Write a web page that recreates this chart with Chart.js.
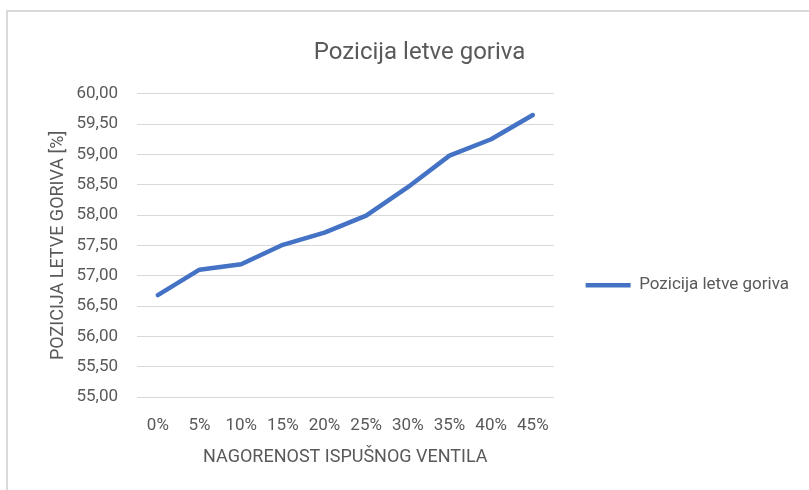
<!DOCTYPE html>
<html>
<head>
<meta charset="utf-8">
<script src="https://cdn.jsdelivr.net/npm/chart.js@4"></script>
<style>
  html, body { margin: 0; padding: 0; background: #fff; }
  #wrap { position: relative; width: 809px; height: 490px; overflow: hidden; }
  #frame { position: absolute; left: 6px; top: 10px; width: 820px; height: 500px;
           border-left: 2px solid #d9d9d9; border-top: 2px solid #d9d9d9; }
  #chart { position: absolute; left: 0; top: 0; }
</style>
</head>
<body>
<div id="wrap">
  <div id="frame"></div>
  <canvas id="chart" width="809" height="490"></canvas>
</div>
<script>
// Pozicija letve goriva vs. nagorenost ispušnog ventila
const categories = ['0%', '5%', '10%', '15%', '20%', '25%', '30%', '35%', '40%', '45%'];
const letvaValues = [56.68, 57.10, 57.19, 57.51, 57.71, 57.99, 58.46, 58.98, 59.25, 59.65];
const seriesName  = 'Pozicija letve goriva';
const yMin = 55, yMax = 60, yStep = 0.5;

const FONT  = 'Roboto, "Open Sans", sans-serif';
const GREY  = '#595959';
const BLUE  = '#4472C4';
const GRID  = '#d9d9d9';

new Chart(document.getElementById('chart'), {
  type: 'line',
  data: {
    labels: categories,
    datasets: [{
      label:            seriesName,
      data:             letvaValues,
      borderColor:      BLUE,
      backgroundColor:  BLUE,
      borderWidth:      4.5,
      borderCapStyle:   'round',
      borderJoinStyle:  'round',
      pointRadius:      0,
      pointStyle:       'line',
      tension:          0,
      yAxisID:          'y',
    }],
  },
  options: {
    responsive:       false,
    animation:        false,
    devicePixelRatio: 1,
    layout: { padding: { top: 14, left: 40, right: 10, bottom: 18 } },
    scales: {
      x: {
        offset: true,
        grid:   { display: false },
        border: { display: false },
        ticks:  { color: GREY, font: { family: FONT, size: 17 }, padding: 11, maxRotation: 0 },
        title:  { display: true, text: 'NAGORENOST ISPUŠNOG VENTILA', color: GREY,
                  font: { family: FONT, size: 18 }, padding: { top: 4, bottom: 4 } },
        afterFit: s => { s.height = 75; },
      },
      y: {
        position: 'left',
        min: yMin, max: yMax,
        grid:   { color: GRID, lineWidth: 1, drawTicks: false },
        border: { display: false },
        ticks:  { stepSize: yStep, color: GREY, padding: 19,
                  font: { family: FONT, size: 17 },
                  callback: v => v.toFixed(2).replace('.', ',') },
        title:  { display: true, text: 'POZICIJA LETVE GORIVA [%]', color: GREY,
                  font: { family: FONT, size: 18 }, padding: { top: 8, bottom: 4 } },
        afterFit: s => { s.width = 97; },
      },
      gap: {
        position: 'right',
        display:  true,
        grid:     { display: false },
        border:   { display: false },
        ticks:    { display: false },
        afterFit: s => { s.width = 22; },
      },
    },
    plugins: {
      title: {
        display: true,
        text:    'Pozicija letve goriva',
        color:   GREY,
        font:    { family: FONT, size: 24, weight: 'normal' },
        padding: { top: 25, bottom: 26 },
      },
      legend: {
        position: 'right',
        maxWidth: 300,
        // empty title only pushes the single entry down, as in the original
        title: {
          display: true,
          text:    ' ',
          color:   'rgba(0,0,0,0)',
          font:    { family: FONT, size: 17 },
          padding: { top: 0, bottom: 64 },
        },
        labels: {
          color: GREY,
          font: { family: FONT, size: 17 },
          usePointStyle: true,
          pointStyleWidth: 45,
          padding: 10,
        },
      },
      tooltip: { enabled: false },
    },
  },
});
</script>
</body>
</html>
